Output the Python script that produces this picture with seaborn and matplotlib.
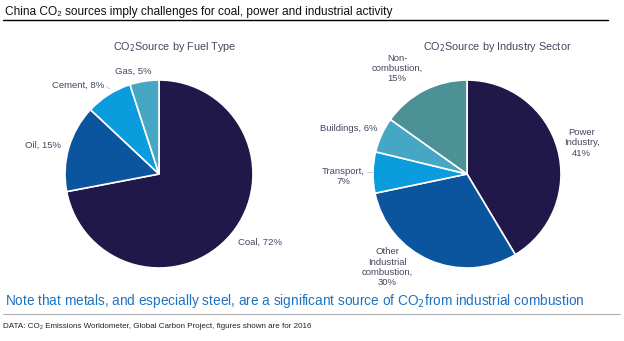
import matplotlib
matplotlib.use("Agg")
import matplotlib.pyplot as plt
import seaborn as sns
from matplotlib.lines import Line2D

# Data
fuel_labels = ["Coal", "Oil", "Cement", "Gas"]
fuel_values = [72, 15, 8, 5]
sector_labels = ["Power\nIndustry", "Other\nIndustrial\ncombustion", "Transport", "Buildings", "Non-\ncombustion"]
sector_values = [41, 30, 7, 6, 15]

title = "China CO\u2082 sources imply challenges for coal, power and industrial activity"
fuel_title = "CO$_2$Source by Fuel Type"
sector_title = "CO$_2$Source by Industry Sector"
note = "Note that metals, and especially steel, are a significant source of CO$_2$from industrial combustion"
source = "DATA: CO\u2082 Emissions Worldometer, Global Carbon Project, figures shown are for 2016"

sns.set_theme(style="white")
plt.rcParams["font.family"] = ["Liberation Sans", "DejaVu Sans"]

navy = "#21184A"
blue = "#0B549E"
bright = "#0A9CDD"
light = "#46A7C5"
teal = "#4B9196"
fuel_colors = sns.color_palette([navy, blue, bright, light])
sector_colors = sns.color_palette([navy, blue, bright, light, teal])
label_color = "#454562"

W, H = 624, 341
fig = plt.figure(figsize=(W / 100, H / 100), dpi=100)


def pie_axes(cx, cy, r):
    return fig.add_axes([(cx - r) / W, 1 - (cy + r) / H, 2 * r / W, 2 * r / H])


wedge_style = dict(edgecolor="white", linewidth=1.2)

ax1 = pie_axes(159, 174, 94)
ax1.pie(fuel_values, colors=fuel_colors, startangle=90, counterclock=False,
        wedgeprops=wedge_style, radius=1)
ax1.set_xlim(-1, 1)
ax1.set_ylim(-1, 1)
ax1.set_aspect("equal")
ax1.axis("off")

ax2 = pie_axes(467, 174, 94)
ax2.pie(sector_values, colors=sector_colors, startangle=90, counterclock=False,
        wedgeprops=wedge_style, radius=1)
ax2.set_xlim(-1, 1)
ax2.set_ylim(-1, 1)
ax2.set_aspect("equal")
ax2.axis("off")

lab_kw = dict(fontsize=6.8, color=label_color, va="center", clip_on=False, linespacing=1.15)

# Fuel labels: (x, y, ha)
fuel_pos = [(0.84, -0.73, "left"), (-1.04, 0.31, "right"), (-0.58, 0.94, "right"), (-0.27, 1.09, "center")]
for name, val, (x, y, ha) in zip(fuel_labels, fuel_values, fuel_pos):
    ax1.text(x, y, f"{name}, {val}%", ha=ha, **lab_kw)

# Sector labels
sector_pos = [(1.22, 0.33, "center"), (-0.85, -0.99, "center"), (-1.32, -0.03, "center"),
              (-0.95, 0.48, "right"), (-0.745, 1.12, "center")]
for name, val, (x, y, ha) in zip(sector_labels, sector_values, sector_pos):
    if name == "Buildings":
        txt = f"{name}, {val}%"
    else:
        txt = f"{name},\n{val}%"
    ax2.text(x, y, txt, ha=ha, multialignment="center", **lab_kw)

# Short leader ticks next to two of the labels
ax1.plot([-0.56, -0.52], [0.93, 0.90], color="#C8C8C8", lw=0.6, clip_on=False)
ax2.plot([-1.06, -1.01], [0.02, 0.02], color="#C8C8C8", lw=0.6, clip_on=False)


def ftext(x, y, s, **kw):
    fig.text(x / W, 1 - y / H, s, **kw)


ftext(5, 12, title, fontsize=8.6, color="#111111", va="center", ha="left")
ftext(175, 47, fuel_title, fontsize=7.8, color=label_color, va="center", ha="center")
ftext(497, 47, sector_title, fontsize=7.8, color=label_color, va="center", ha="center")
ftext(5, 301, note, fontsize=9.85, color="#1E72C2", va="center", ha="left")
ftext(3, 326, source, fontsize=5.8, color="#222222", va="center", ha="left")

fig.add_artist(Line2D([3 / W, 608 / W], [1 - 20 / H, 1 - 20 / H], color="black", lw=1.0))
fig.add_artist(Line2D([3 / W, 620 / W], [1 - 314 / H, 1 - 314 / H], color="#B0B0B0", lw=0.8))

fig.savefig("out.png", dpi=100, facecolor="white")
